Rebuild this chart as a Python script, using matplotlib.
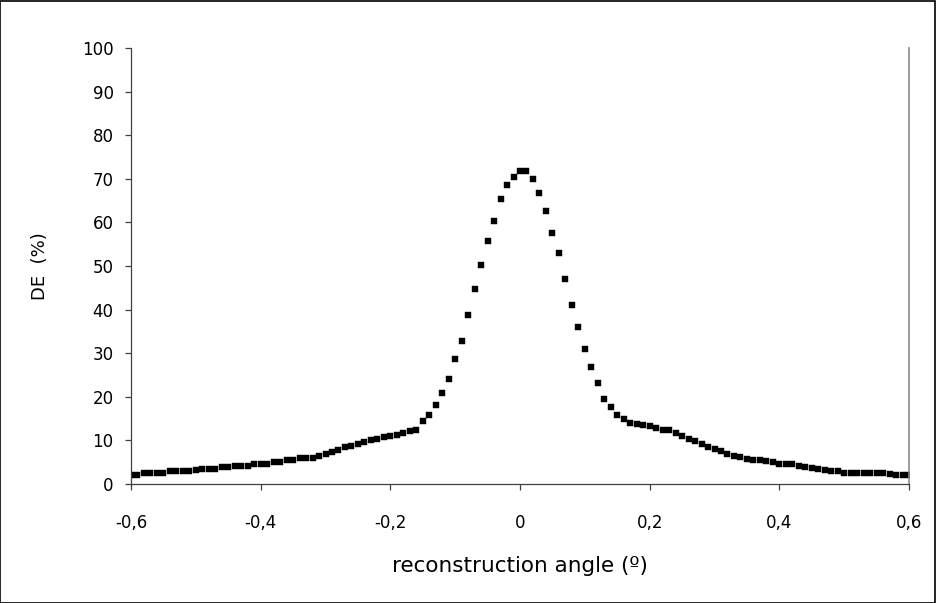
import matplotlib
matplotlib.use("Agg")
import matplotlib.pyplot as plt
from matplotlib.patches import Rectangle
from matplotlib.ticker import FixedLocator

plt.rcParams['font.family'] = ['DejaVu Sans']

angle = [
    -0.60, -0.59, -0.58, -0.57, -0.56, -0.55, -0.54, -0.53, -0.52, -0.51,
    -0.50, -0.49, -0.48, -0.47, -0.46, -0.45, -0.44, -0.43, -0.42, -0.41,
    -0.40, -0.39, -0.38, -0.37, -0.36, -0.35, -0.34, -0.33, -0.32, -0.31,
    -0.30, -0.29, -0.28, -0.27, -0.26, -0.25, -0.24, -0.23, -0.22, -0.21,
    -0.20, -0.19, -0.18, -0.17, -0.16, -0.15, -0.14, -0.13, -0.12, -0.11,
    -0.10, -0.09, -0.08, -0.07, -0.06, -0.05, -0.04, -0.03, -0.02, -0.01,
    0.00, 0.01, 0.02, 0.03, 0.04, 0.05, 0.06, 0.07, 0.08, 0.09,
    0.10, 0.11, 0.12, 0.13, 0.14, 0.15, 0.16, 0.17, 0.18, 0.19,
    0.20, 0.21, 0.22, 0.23, 0.24, 0.25, 0.26, 0.27, 0.28, 0.29,
    0.30, 0.31, 0.32, 0.33, 0.34, 0.35, 0.36, 0.37, 0.38, 0.39,
    0.40, 0.41, 0.42, 0.43, 0.44, 0.45, 0.46, 0.47, 0.48, 0.49,
    0.50, 0.51, 0.52, 0.53, 0.54, 0.55, 0.56, 0.57, 0.58, 0.59,
    0.60,
]

de = [
    2.0, 2.1, 2.5, 2.6, 2.6, 2.6, 2.9, 3.0, 3.0, 3.0,
    3.3, 3.4, 3.4, 3.4, 3.8, 3.8, 4.2, 4.2, 4.2, 4.6,
    4.6, 4.6, 5.1, 5.1, 5.5, 5.5, 5.9, 5.9, 5.9, 6.4,
    6.9, 7.4, 7.9, 8.4, 8.8, 9.2, 9.6, 10.0, 10.4, 10.7,
    11.0, 11.3, 11.8, 12.2, 12.3, 14.4, 15.8, 18.1, 20.9, 24.1,
    28.7, 32.8, 38.8, 44.7, 50.2, 55.7, 60.3, 65.4, 68.6, 70.4,
    71.9, 71.9, 70.0, 66.7, 62.6, 57.6, 53.0, 47.0, 41.1, 36.0,
    31.0, 26.8, 23.2, 19.5, 17.7, 15.8, 14.9, 14.0, 13.7, 13.6,
    13.3, 12.9, 12.5, 12.3, 11.6, 11.0, 10.4, 9.8, 9.1, 8.6,
    8.0, 7.5, 6.9, 6.5, 6.1, 5.8, 5.5, 5.4, 5.2, 5.0,
    4.7, 4.6, 4.5, 4.2, 3.8, 3.7, 3.4, 3.1, 3.0, 3.0,
    2.6, 2.6, 2.6, 2.6, 2.6, 2.6, 2.6, 2.4, 2.1, 2.1,
    2.1,
]

x_ticks = [-0.6, -0.4, -0.2, 0.0, 0.2, 0.4, 0.6]
x_tick_labels = ["-0,6", "-0,4", "-0,2", "0", "0,2", "0,4", "0,6"]
y_ticks = [0, 10, 20, 30, 40, 50, 60, 70, 80, 90, 100]

W, H = 936, 603
fig = plt.figure(figsize=(W / 100, H / 100), dpi=100)
ax = fig.add_axes([131 / W, 1 - 484 / H, (909 - 131) / W, (484 - 48) / H])

ax.plot(angle, de, linestyle='none', marker='s', markersize=4.7,
        markerfacecolor='black', markeredgecolor='black', markeredgewidth=0.3)

ax.set_xlim(-0.6, 0.6)
ax.set_ylim(0, 100)
ax.xaxis.set_major_locator(FixedLocator(x_ticks))
ax.set_xticklabels(x_tick_labels)
ax.yaxis.set_major_locator(FixedLocator(y_ticks))
ax.set_yticklabels([str(v) for v in y_ticks])

ax.tick_params(axis='both', direction='out', length=4.5, width=0.9,
               color='#404040', labelsize=12, labelcolor='black')
ax.tick_params(axis='x', pad=17)
ax.tick_params(axis='y', pad=8)

ax.spines['top'].set_visible(False)
for side in ['left', 'bottom']:
    ax.spines[side].set_color('#404040')
    ax.spines[side].set_linewidth(0.9)
ax.spines['right'].set_color('#8c8c8c')
ax.spines['right'].set_linewidth(1.2)

ax.set_xlabel("reconstruction angle (º)", fontsize=15.5)
ax.xaxis.label.set_va('center')
ax.xaxis.set_label_coords(0.5, (484 - 566) / (484 - 48))

ax.set_ylabel("DE  (%)", fontsize=13)
ax.yaxis.label.set_va('center')
ax.yaxis.label.set_ha('center')
ax.yaxis.set_label_coords((40 - 131) / (909 - 131), 0.5)

fig.add_artist(Rectangle((0.0005, 0.0008), 0.998, 0.998, transform=fig.transFigure,
                         fill=False, edgecolor='black', linewidth=1.2))

fig.savefig("out.png", dpi=100, facecolor='white')
